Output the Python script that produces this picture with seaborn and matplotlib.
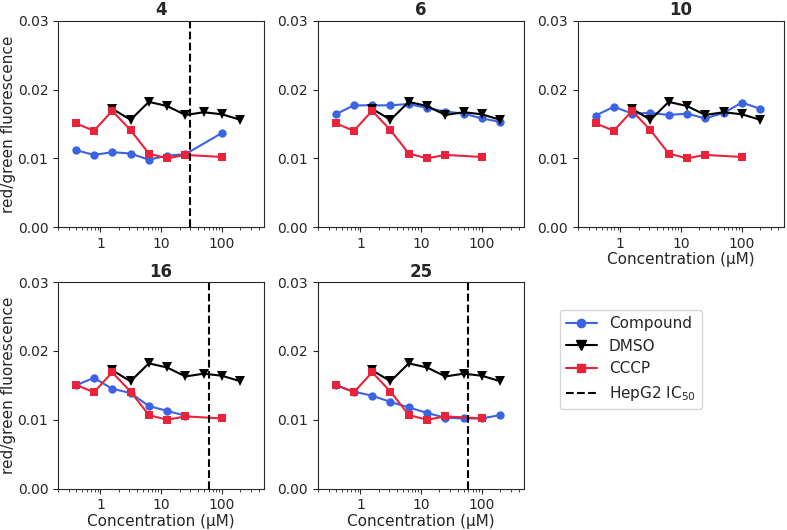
import numpy as np
import pandas as pd
import seaborn as sns
import matplotlib
matplotlib.use("Agg")
from matplotlib import pyplot as plt
from matplotlib.lines import Line2D

conc = [0.39, 0.78, 1.56, 3.125, 6.25, 12.5, 25, 50, 100, 200]

panels = ["4", "6", "10", "16", "25"]
ic50 = {"4": 30, "16": 60, "25": 60}

# compound readings per panel (concentration, ratio)
cmpd_x = {
    "4": [0.39, 0.78, 1.56, 3.125, 6.25, 12.5, 25, 100],
    "6": conc,
    "10": conc,
    "16": [0.39, 0.78, 1.56, 3.125, 6.25, 12.5, 25],
    "25": conc,
}
cmpd_y = {
    "4": [0.0112, 0.0105, 0.0109, 0.0107, 0.0098, 0.0104, 0.0106, 0.0137],
    "6": [0.0164, 0.0177, 0.0177, 0.0177, 0.0179, 0.0173, 0.0168, 0.0165, 0.0158, 0.0153],
    "10": [0.0162, 0.0175, 0.0165, 0.0166, 0.0163, 0.0165, 0.0158, 0.0166, 0.0181, 0.0172],
    "16": [0.0150, 0.0161, 0.0145, 0.0139, 0.0120, 0.0113, 0.0106],
    "25": [0.0150, 0.0141, 0.0135, 0.0126, 0.0118, 0.0110, 0.0103, 0.0102, 0.0102, 0.0107],
}

dmso_x = [1.56, 3.125, 6.25, 12.5, 25, 50, 100, 200]
dmso_y = [0.0172, 0.0156, 0.0182, 0.0176, 0.0163, 0.0167, 0.0164, 0.0156]

cccp_x = [0.39, 0.78, 1.56, 3.125, 6.25, 12.5, 25, 100]
cccp_y = [0.0151, 0.0140, 0.0169, 0.0141, 0.0107, 0.0100, 0.0105, 0.0102]

blue = "#3b64e3"
red = "#e8233a"

sns.set_style("ticks")
plt.rcParams["font.family"] = ["DejaVu Sans"]

fig, axes = plt.subplots(2, 3, figsize=(7.87, 5.3), dpi=100)
fig.subplots_adjust(left=0.0737, right=0.996, top=0.961, bottom=0.078,
                    wspace=0.262, hspace=0.266)
axes = axes.ravel()

for i, p in enumerate(panels):
    ax = axes[i]
    df_c = pd.DataFrame({"x": cmpd_x[p], "y": cmpd_y[p]})
    sns.lineplot(data=df_c, x="x", y="y", ax=ax, color=blue, marker="o",
                 markersize=6, markeredgewidth=0, lw=1.5)
    df_d = pd.DataFrame({"x": dmso_x, "y": dmso_y})
    sns.lineplot(data=df_d, x="x", y="y", ax=ax, color="black", marker="v",
                 markersize=7, markeredgewidth=0, lw=1.5)
    df_r = pd.DataFrame({"x": cccp_x, "y": cccp_y})
    sns.lineplot(data=df_r, x="x", y="y", ax=ax, color=red, marker="s",
                 markersize=6, markeredgewidth=0, lw=1.5)
    if p in ic50:
        ax.axvline(ic50[p], color="black", ls="--", lw=1.5)
    ax.set_xscale("log")
    ax.set_xlim(0.2, 490)
    ax.set_ylim(0, 0.03)
    ax.set_yticks([0, 0.01, 0.02, 0.03])
    ax.set_yticklabels(["0.00", "0.01", "0.02", "0.03"])
    ax.set_xticks([1, 10, 100])
    ax.set_xticklabels(["1", "10", "100"])
    ax.tick_params(labelsize=10)
    ax.set_title(p, fontsize=12, fontweight="bold", pad=4)
    ax.set_xlabel("Concentration (µM)" if i >= 2 else "", fontsize=11, labelpad=1)
    ax.set_ylabel("red/green fluorescence" if i in (0, 3) else "", fontsize=11, labelpad=1)

axes[5].axis("off")

handles = [
    Line2D([], [], color=blue, marker="o", markersize=6, lw=1.5),
    Line2D([], [], color="black", marker="v", markersize=7, lw=1.5),
    Line2D([], [], color=red, marker="s", markersize=6, lw=1.5),
    Line2D([], [], color="black", ls="--", lw=1.5),
]
labels = ["Compound", "DMSO", "CCCP", "HepG2 IC$_{50}$"]
fig.legend(handles, labels, loc="upper left", bbox_to_anchor=(560 / 787, 1 - 310 / 530),
           borderaxespad=0, fontsize=11, frameon=True)

plt.savefig("out.png", dpi=100)
